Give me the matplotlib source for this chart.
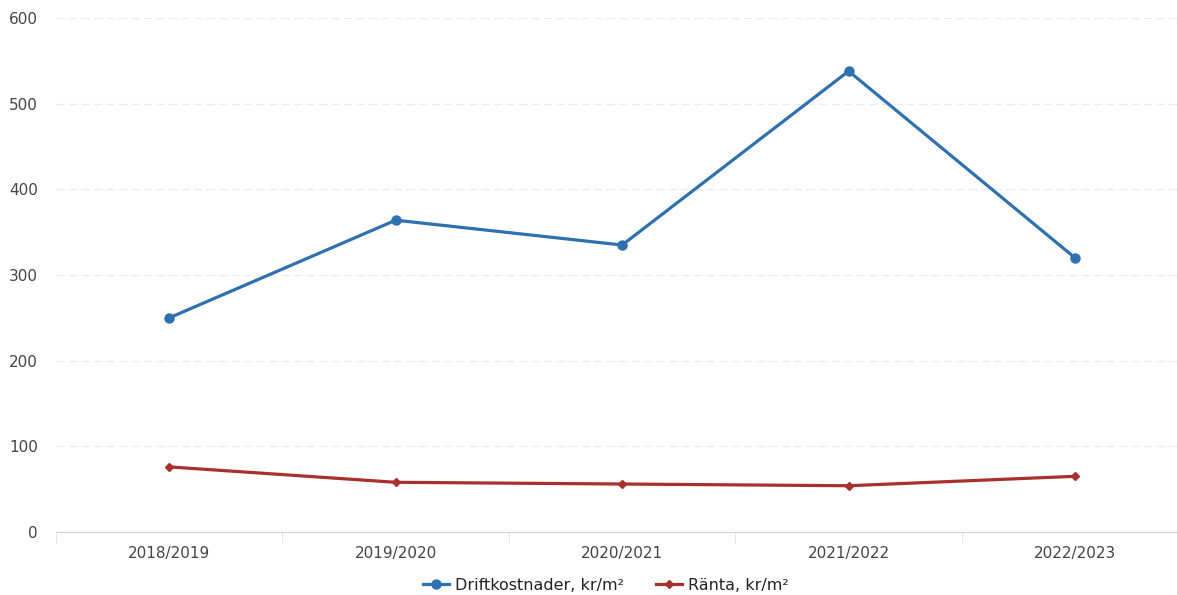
import matplotlib.pyplot as plt
import numpy as np

years = ['2018/2019', '2019/2020', '2020/2021', '2021/2022', '2022/2023']
drift = [250, 364, 335, 538, 320]
ranta = [76, 58, 56, 54, 65]

fig = plt.figure(figsize=(11.77, 5.95), dpi=100)
ax = fig.add_axes([0.0476, 0.1059, 0.962, 0.8638])

x = np.arange(len(years))
ax.plot(x, drift, color='#2f70b0', lw=2.3, marker='o', ms=6.5, label='Driftkostnader, kr/m²')
ax.plot(x, ranta, color='#a8302e', lw=2.3, marker='D', ms=4.5, label='Ränta, kr/m²')

ax.set_xlim(-0.5, 4.5)
ax.set_ylim(0, 600)
ax.set_yticks(range(0, 601, 100))
ax.set_xticks(x)
ax.set_xticklabels(years)
ax.set_xticks(np.arange(-0.5, 5, 1), minor=True)
ax.tick_params(axis='x', which='major', length=0, pad=10, labelsize=11, labelcolor='#444444')
ax.tick_params(axis='x', which='minor', length=8, color='#dde3ea', direction='out')
ax.tick_params(axis='y', length=0, pad=13, labelsize=11, labelcolor='#444444')

ax.grid(axis='y', color='#ececec', lw=1, ls=(0, (6, 3)))
ax.set_axisbelow(True)
for s in ['top', 'right', 'left']:
    ax.spines[s].set_visible(False)
ax.spines['bottom'].set_color('#c9d3df')

fig.legend(loc='lower center', bbox_to_anchor=(0.515, -0.02), ncol=2, frameon=False,
           fontsize=11.5, handlelength=1.6, columnspacing=2.0, handletextpad=0.4,
           labelcolor='#222222')

fig.savefig('out.png', dpi=100)
